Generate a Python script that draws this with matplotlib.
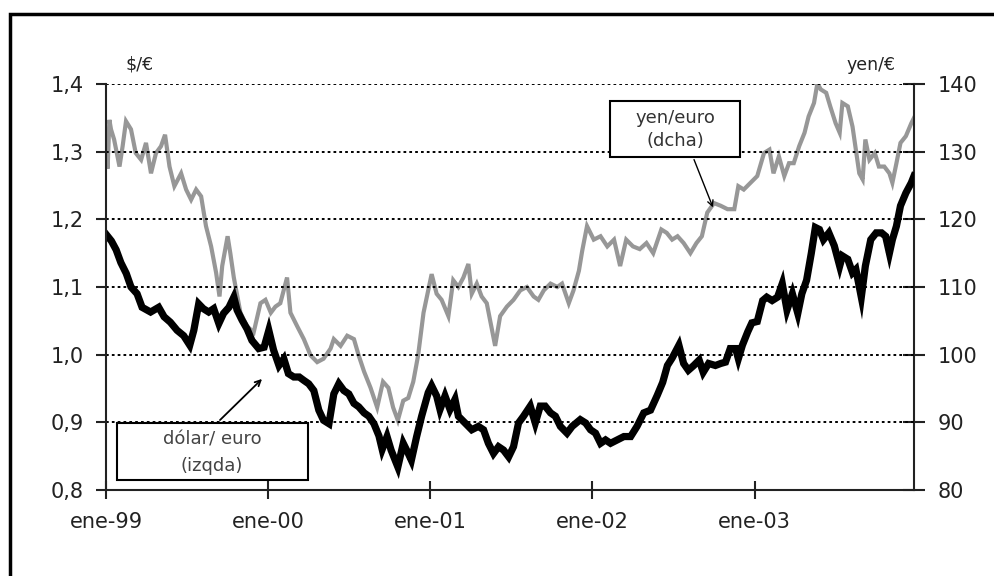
import matplotlib
matplotlib.use("Agg")
import matplotlib.pyplot as plt
from matplotlib.patches import Rectangle
from matplotlib.ticker import FuncFormatter

plt.rcParams['font.family'] = ['DejaVu Sans']

# months since ene-99
usd_month = [0.0, 0.4, 0.75, 1.1, 1.5, 1.85, 2.3, 2.67, 3.3, 3.9,
             4.3, 4.76, 5.26, 5.75, 6.2, 6.5, 6.86, 7.2, 7.6, 7.97,
             8.35, 8.7, 9.1, 9.46, 9.7, 10.07, 10.44, 10.8, 11.3, 11.7,
             12.05, 12.4, 12.8, 13.16, 13.5, 13.9, 14.3, 14.64, 15.0, 15.38,
             15.75, 16.1, 16.5, 16.86, 17.23, 17.6, 17.97, 18.35, 18.7, 19.1,
             19.45, 19.83, 20.2, 20.44, 20.8, 21.1, 21.6, 22.0, 22.37, 22.6,
             22.99, 23.36, 23.85, 24.1, 24.47, 24.72, 25.09, 25.46, 25.83, 26.08,
             26.57, 27.07, 27.56, 27.94, 28.3, 28.68, 29.05, 29.42, 29.8, 30.16,
             30.53, 30.9, 31.4, 31.77, 32.14, 32.5, 32.9, 33.26, 33.63, 34.12,
             34.5, 35.1, 35.5, 35.86, 36.23, 36.6, 36.97, 37.34, 37.84, 38.33,
             38.83, 39.3, 39.8, 40.3, 40.8, 41.2, 41.55, 41.9, 42.4, 42.75,
             43.1, 43.5, 43.9, 44.2, 44.6, 45.1, 45.5, 45.85, 46.2, 46.6,
             46.8, 47.1, 47.5, 47.8, 48.2, 48.6, 48.9, 49.3, 49.7, 50.05,
             50.4, 50.8, 51.2, 51.5, 51.85, 52.2, 52.5, 52.8, 53.1, 53.5,
             53.9, 54.3, 54.5, 54.9, 55.25, 55.5, 55.9, 56.2, 56.6, 57.0,
             57.4, 57.7, 57.98, 58.2, 58.5, 58.8, 59.2, 59.6, 59.8]
usd_rate = [1.178, 1.168, 1.155, 1.136, 1.120, 1.100, 1.090, 1.070, 1.063, 1.070,
            1.056, 1.048, 1.036, 1.028, 1.014, 1.036, 1.075, 1.068, 1.063, 1.068,
            1.046, 1.061, 1.070, 1.085, 1.066, 1.051, 1.038, 1.021, 1.009, 1.011,
            1.036, 1.007, 0.984, 0.994, 0.972, 0.967, 0.967, 0.962, 0.957, 0.947,
            0.918, 0.903, 0.898, 0.942, 0.957, 0.947, 0.942, 0.928, 0.923, 0.914,
            0.909, 0.898, 0.880, 0.860, 0.879, 0.859, 0.834, 0.869, 0.854, 0.844,
            0.879, 0.909, 0.944, 0.954, 0.939, 0.919, 0.939, 0.919, 0.934, 0.909,
            0.899, 0.889, 0.894, 0.889, 0.869, 0.854, 0.864, 0.859, 0.849, 0.864,
            0.899, 0.909, 0.924, 0.899, 0.924, 0.924, 0.914, 0.909, 0.894, 0.884,
            0.894, 0.904, 0.899, 0.889, 0.884, 0.869, 0.874, 0.869, 0.874, 0.879,
            0.879, 0.894, 0.914, 0.918, 0.940, 0.959, 0.984, 0.995, 1.014, 0.987,
            0.977, 0.984, 0.992, 0.974, 0.987, 0.984, 0.987, 0.989, 1.009, 1.009,
            0.994, 1.014, 1.034, 1.047, 1.049, 1.080, 1.085, 1.080, 1.085, 1.105,
            1.066, 1.090, 1.061, 1.090, 1.110, 1.150, 1.188, 1.185, 1.170, 1.180,
            1.161, 1.131, 1.146, 1.141, 1.121, 1.126, 1.085, 1.131, 1.170, 1.180,
            1.180, 1.175, 1.150, 1.170, 1.190, 1.220, 1.239, 1.254, 1.264]

jpy_month = [0.0, 0.12, 0.25, 0.37, 0.6, 1.0, 1.23, 1.48, 1.85, 2.2,
             2.6, 2.96, 3.33, 3.7, 4.07, 4.37, 4.7, 5.06, 5.56, 5.93,
             6.3, 6.67, 7.04, 7.4, 7.78, 8.15, 8.4, 8.6, 9.0, 9.2,
             9.46, 9.95, 10.44, 10.93, 11.43, 11.8, 12.2, 12.54, 12.9, 13.4,
             13.65, 14.15, 14.64, 15.14, 15.63, 16.1, 16.62, 16.86, 17.36, 17.85,
             18.35, 18.7, 19.1, 19.58, 20.07, 20.5, 20.9, 21.25, 21.6, 22.0,
             22.37, 22.74, 23.1, 23.5, 23.85, 24.1, 24.47, 24.84, 25.34, 25.7,
             26.08, 26.45, 26.82, 27.07, 27.44, 27.8, 28.18, 28.55, 28.8, 29.17,
             29.67, 30.16, 30.66, 31.15, 31.65, 32.0, 32.4, 32.9, 33.4, 33.75,
             34.25, 34.6, 35.0, 35.24, 35.6, 36.1, 36.6, 37.1, 37.6, 38.05,
             38.5, 39.0, 39.5, 40.0, 40.5, 41.1, 41.5, 41.9, 42.3, 42.75,
             43.25, 43.7, 44.1, 44.5, 45.0, 45.5, 46.0, 46.5, 46.8, 47.2,
             47.7, 48.2, 48.7, 49.1, 49.4, 49.8, 50.2, 50.55, 50.9, 51.3,
             51.7, 52.0, 52.4, 52.65, 52.9, 53.3, 53.6, 54.0, 54.3, 54.5,
             54.9, 55.25, 55.5, 55.75, 56.0, 56.2, 56.5, 56.9, 57.2, 57.6,
             57.98, 58.2, 58.5, 58.8, 59.2, 59.6, 59.8]
jpy_rate = [133.0, 127.5, 134.7, 133.3, 131.8, 127.8, 130.8, 134.5, 133.3, 129.8,
            128.8, 131.3, 126.8, 129.8, 130.8, 132.5, 127.8, 124.9, 126.8, 124.4,
            122.9, 124.4, 123.4, 119.0, 116.0, 112.1, 108.6, 113.1, 117.5, 115.0,
            111.4, 106.2, 104.2, 103.3, 107.6, 108.1, 106.2, 107.1, 107.6, 111.4,
            106.2, 104.2, 102.3, 99.9, 98.9, 99.4, 100.9, 102.3, 101.3, 102.8,
            102.3, 99.9, 97.5, 95.1, 92.2, 96.0, 95.1, 92.2, 90.3, 93.2,
            93.6, 96.0, 99.9, 106.2, 109.5, 111.9, 109.0, 108.1, 105.7, 111.0,
            110.0, 111.4, 113.4, 109.0, 110.5, 108.6, 107.6, 103.8, 101.3, 105.7,
            107.1, 108.1, 109.5, 110.0, 108.6, 108.1, 109.5, 110.5, 110.0, 110.5,
            107.6, 109.5, 112.4, 115.3, 119.0, 117.0, 117.5, 116.0, 117.0, 113.1,
            117.0, 116.0, 115.6, 116.5, 115.0, 118.5, 118.0, 117.0, 117.5, 116.5,
            115.0, 116.5, 117.5, 121.0, 122.4, 122.0, 121.5, 121.5, 124.9, 124.4,
            125.4, 126.4, 129.8, 130.3, 126.8, 129.3, 126.4, 128.3, 128.3, 130.8,
            132.8, 135.2, 137.2, 140.1, 139.2, 138.7, 136.7, 134.2, 132.8, 137.2,
            136.7, 133.7, 130.3, 126.8, 125.9, 131.8, 128.8, 129.8, 127.8, 127.8,
            126.8, 125.4, 128.3, 131.3, 132.3, 134.2, 135.0]

year_ticks = [0, 12, 24, 36, 48]
year_labels = ['ene-99', 'ene-00', 'ene-01', 'ene-02', 'ene-03']
left_ticks = [0.8, 0.9, 1.0, 1.1, 1.2, 1.3, 1.4]
right_ticks = [80, 90, 100, 110, 120, 130, 140]

W, H = 994, 576
fig = plt.figure(figsize=(W / 100, H / 100), dpi=100)
ax = fig.add_axes([106 / W, 1 - 490 / H, 808 / W, 406 / H])
ax2 = ax.twinx()

ax2.plot(jpy_month, jpy_rate, color='#979797', lw=3.0, solid_joinstyle='miter')
ax.plot(usd_month, usd_rate, color='black', lw=5.2, solid_joinstyle='miter')
ax.set_zorder(ax2.get_zorder() + 1)
ax.patch.set_visible(False)

ax.set_xlim(0, 59.8)
ax.set_ylim(0.8, 1.4)
ax2.set_ylim(80, 140)
ax.set_xticks(year_ticks)
ax.set_xticklabels(year_labels)
ax.set_yticks(left_ticks)
ax.yaxis.set_major_formatter(FuncFormatter(lambda v, p: f"{v:.1f}".replace('.', ',')))
ax2.set_yticks(right_ticks)

for a in (ax, ax2):
    a.spines['top'].set_visible(False)
    for s in ('left', 'right', 'bottom'):
        a.spines[s].set_linewidth(1.5)
        a.spines[s].set_color('#222222')
ax.spines['right'].set_visible(False)
ax2.spines['left'].set_visible(False)
ax2.spines['bottom'].set_visible(False)

ax.tick_params(axis='x', direction='inout', length=13, width=1.5, pad=9,
               labelsize=15, colors='#222222')
ax.tick_params(axis='y', direction='out', length=7, width=1.5, pad=9,
               labelsize=15, colors='#222222')
ax2.tick_params(axis='y', direction='inout', length=16, width=1.5, pad=9,
                labelsize=15, colors='#222222')

for v in left_ticks[1:]:
    ax.axhline(v, color='black', lw=1.4, ls=(0, (1.4, 1.6)), zorder=0)

fig.text(140 / W, 1 - 65 / H, '\\$/€', ha='center', va='center', fontsize=12.5, color='#222222')
fig.text(871 / W, 1 - 65 / H, 'yen/€', ha='center', va='center', fontsize=12.5, color='#222222')

# label boxes
fig.patches.append(Rectangle((610 / W, 1 - 157 / H), 130 / W, 56 / H, transform=fig.transFigure,
                             fill=True, facecolor='white', edgecolor='black', lw=1.5, zorder=5))
fig.text(675 / W, 1 - 118 / H, 'yen/euro', ha='center', va='center', fontsize=13, color='#333333', zorder=6)
fig.text(675 / W, 1 - 141 / H, '(dcha)', ha='center', va='center', fontsize=13, color='#333333', zorder=6)
fig.patches.append(Rectangle((117 / W, 1 - 480 / H), 191 / W, 57 / H, transform=fig.transFigure,
                             fill=True, facecolor='white', edgecolor='black', lw=1.5, zorder=5))
fig.text(212 / W, 1 - 439 / H, 'dólar/ euro', ha='center', va='center', fontsize=13, color='#444444', zorder=6)
fig.text(212 / W, 1 - 466 / H, '(izqda)', ha='center', va='center', fontsize=13, color='#444444', zorder=6)

ax.annotate('', xy=(714, H - 210), xycoords='figure pixels', xytext=(693, H - 157),
            textcoords='figure pixels',
            arrowprops=dict(arrowstyle='->', color='black', lw=1.0), annotation_clip=False)
ax.annotate('', xy=(264, H - 377), xycoords='figure pixels', xytext=(218, H - 422),
            textcoords='figure pixels',
            arrowprops=dict(arrowstyle='->', color='black', lw=1.3), annotation_clip=False)

# outer frame (cropped on right and bottom)
fig.patches.append(Rectangle((9.5 / W, -0.1), 1.2, 1.1 - 13.5 / H, transform=fig.transFigure,
                             fill=False, edgecolor='black', lw=2.5))

fig.savefig('out.png', dpi=100)
